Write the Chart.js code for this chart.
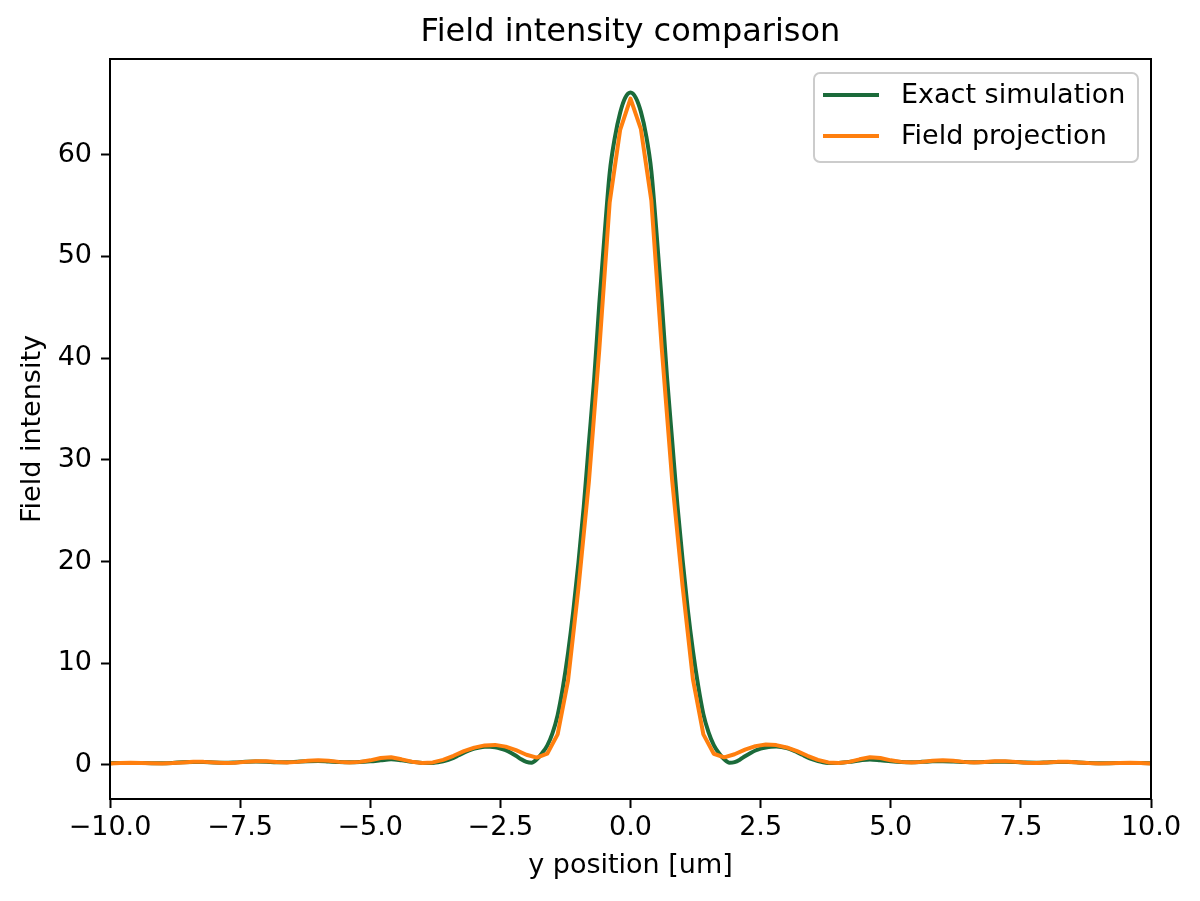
<!DOCTYPE html>
<html>
<head>
<meta charset="utf-8">
<script src="https://cdn.jsdelivr.net/npm/chart.js@4.4.1/dist/chart.umd.min.js"></script>
<style>
  html, body { margin: 0; padding: 0; background: #fff; }
  #fieldChart { display: block; }
</style>
</head>
<body>
<canvas id="fieldChart" width="1200" height="901"></canvas>
<script>
const titleText = "Field intensity comparison";
const xLabel = "y position [um]";
const yLabel = "Field intensity";
const seriesNames = ["Exact simulation", "Field projection"];

const xTicks = [-10, -7.5, -5, -2.5, 0, 2.5, 5, 7.5, 10];
const xTickLabels = ["\u221210.0", "\u22127.5", "\u22125.0", "\u22122.5", "0.0", "2.5", "5.0", "7.5", "10.0"];
const yTicks = [0, 10, 20, 30, 40, 50, 60];
const yTickLabels = ["0", "10", "20", "30", "40", "50", "60"];

// exact simulation (fine sampling)
const exactX = [
  -10, -9.8, -9.6, -9.4, -9.2, -9, -8.8, -8.6, -8.4, -8.2, -8, -7.8, -7.6, -7.4, -7.2, -7, -6.8, -6.6, -6.4, -6.2,
  -6, -5.8, -5.6, -5.4, -5.2, -5, -4.8, -4.6, -4.4, -4.2,
  -4, -3.9, -3.8, -3.7, -3.6, -3.5, -3.4, -3.3, -3.2, -3.1, -3, -2.9, -2.8, -2.7, -2.6, -2.5, -2.4, -2.3, -2.2, -2.1,
  -2, -1.9, -1.8, -1.7, -1.6, -1.5, -1.4, -1.3, -1.2, -1.1, -1, -0.9, -0.8, -0.7, -0.6, -0.5, -0.4, -0.3, -0.2, -0.1,
  0, 0.1, 0.2, 0.3, 0.4, 0.5, 0.6, 0.7, 0.8, 0.9, 1, 1.1, 1.2, 1.3, 1.4, 1.5, 1.6, 1.7, 1.8, 1.9,
  2, 2.1, 2.2, 2.3, 2.4, 2.5, 2.6, 2.7, 2.8, 2.9, 3, 3.1, 3.2, 3.3, 3.4, 3.5, 3.6, 3.7, 3.8, 3.9, 4,
  4.2, 4.4, 4.6, 4.8, 5, 5.2, 5.4, 5.6, 5.8, 6, 6.2, 6.4, 6.6, 6.8, 7, 7.2, 7.4, 7.6, 7.8, 8,
  8.2, 8.4, 8.6, 8.8, 9, 9.2, 9.4, 9.6, 9.8, 10
];
const exactY = [
  0.17, 0.19, 0.2, 0.19, 0.17, 0.17, 0.2, 0.26, 0.29, 0.28, 0.24, 0.22, 0.25, 0.3, 0.33, 0.31, 0.27, 0.27, 0.32, 0.37,
  0.38, 0.33, 0.28, 0.26, 0.28, 0.35, 0.45, 0.55, 0.45, 0.3,
  0.2, 0.18, 0.2, 0.25, 0.35, 0.5, 0.7, 0.95, 1.2, 1.42, 1.6, 1.72, 1.78, 1.78, 1.73, 1.62, 1.45, 1.2, 0.9, 0.55,
  0.3, 0.22, 0.55, 1.15, 1.9, 3.1, 4.9, 7.6, 11.0, 15.1, 19.9, 25.3, 31.6, 37.8, 45.3, 52.0, 58.2, 61.7, 64.1, 65.6,
  66.1, 65.6, 64.2, 61.9, 58.4, 52.3, 45.6, 38.2, 31.9, 25.6, 20.2, 15.3, 11.2, 7.8, 5.0, 3.2, 1.95, 1.15, 0.55, 0.22,
  0.28, 0.52, 0.85, 1.15, 1.42, 1.6, 1.72, 1.79, 1.8, 1.76, 1.65, 1.48, 1.25, 1.0, 0.75, 0.55, 0.38, 0.27, 0.2, 0.18, 0.2,
  0.3, 0.44, 0.54, 0.46, 0.36, 0.29, 0.27, 0.3, 0.35, 0.37, 0.34, 0.29, 0.26, 0.28, 0.32, 0.32, 0.28, 0.23, 0.22, 0.25,
  0.28, 0.28, 0.25, 0.2, 0.17, 0.17, 0.19, 0.2, 0.18, 0.16
];

// field projection (coarser sampling, 0.2 um)
const projX = [
  -10, -9.8, -9.6, -9.4, -9.2, -9, -8.8, -8.6, -8.4, -8.2, -8, -7.8, -7.6, -7.4, -7.2, -7, -6.8, -6.6, -6.4, -6.2,
  -6, -5.8, -5.6, -5.4, -5.2, -5, -4.8, -4.6, -4.4, -4.2, -4, -3.8, -3.6, -3.4, -3.2, -3, -2.8, -2.6, -2.4, -2.2,
  -2, -1.8, -1.6, -1.4, -1.2, -1, -0.8, -0.6, -0.4, -0.2, 0, 0.2, 0.4, 0.6, 0.8, 1, 1.2, 1.4, 1.6, 1.8,
  2, 2.2, 2.4, 2.6, 2.8, 3, 3.2, 3.4, 3.6, 3.8, 4, 4.2, 4.4, 4.6, 4.8, 5, 5.2, 5.4, 5.6, 5.8,
  6, 6.2, 6.4, 6.6, 6.8, 7, 7.2, 7.4, 7.6, 7.8, 8, 8.2, 8.4, 8.6, 8.8, 9, 9.2, 9.4, 9.6, 9.8, 10
];
const projY = [
  0.15, 0.18, 0.21, 0.2, 0.16, 0.14, 0.18, 0.25, 0.31, 0.3, 0.24, 0.2, 0.22, 0.3, 0.37, 0.36, 0.28, 0.24, 0.3, 0.4,
  0.45, 0.4, 0.3, 0.25, 0.3, 0.45, 0.68, 0.75, 0.55, 0.32, 0.2, 0.25, 0.5, 0.9, 1.35, 1.7, 1.92, 1.97, 1.8, 1.45,
  1.0, 0.72, 1.1, 3.0, 8.3, 17.4, 27.8, 40.8, 55.3, 62.4, 65.5, 62.5, 55.5, 41.0, 28.0, 17.6, 8.4, 3.0, 1.1, 0.75,
  1.05, 1.5, 1.85, 2.0, 1.95, 1.72, 1.35, 0.9, 0.5, 0.25, 0.18, 0.3, 0.55, 0.75, 0.68, 0.45, 0.3, 0.25, 0.3, 0.42,
  0.47, 0.4, 0.3, 0.24, 0.28, 0.36, 0.37, 0.3, 0.22, 0.2, 0.24, 0.3, 0.31, 0.25, 0.18, 0.14, 0.16, 0.2, 0.21, 0.18, 0.15
];

const exactColor = "#1b6b3a";
const projColor = "#ff7f0e";
const FONT = "DejaVu Sans";

Chart.defaults.font.family = FONT;
Chart.defaults.color = "#000";

// matplotlib-style title, box spines and in-plot legend
const frameLegendPlugin = {
  id: "frameLegend",
  afterDraw(chart) {
    const { ctx, chartArea: { left, right, top, bottom } } = chart;
    ctx.save();
    ctx.fillStyle = "#000";
    ctx.font = `32px "${FONT}"`;
    ctx.textAlign = "center";
    ctx.textBaseline = "middle";
    ctx.fillText(titleText, (left + right) / 2, 33);

    ctx.strokeStyle = "#000";
    ctx.lineWidth = 2;
    ctx.strokeRect(left, top, right - left, bottom - top);

    const bw = 324, bh = 89;
    const bx = right - 13 - bw, by = top + 14;
    const r = 6;
    ctx.beginPath();
    ctx.moveTo(bx + r, by);
    ctx.arcTo(bx + bw, by, bx + bw, by + bh, r);
    ctx.arcTo(bx + bw, by + bh, bx, by + bh, r);
    ctx.arcTo(bx, by + bh, bx, by, r);
    ctx.arcTo(bx, by, bx + bw, by, r);
    ctx.closePath();
    ctx.fillStyle = "rgba(255,255,255,0.8)";
    ctx.fill();
    ctx.strokeStyle = "#cccccc";
    ctx.lineWidth = 2;
    ctx.stroke();

    const colors = [exactColor, projColor];
    ctx.font = `27px "${FONT}"`;
    ctx.textAlign = "left";
    seriesNames.forEach((name, i) => {
      const y = by + 22 + i * 41;
      ctx.beginPath();
      ctx.moveTo(bx + 9, y);
      ctx.lineTo(bx + 65, y);
      ctx.strokeStyle = colors[i];
      ctx.lineWidth = 4;
      ctx.stroke();
      ctx.fillStyle = "#000";
      ctx.fillText(name, bx + 87, y + 1);
    });
    ctx.restore();
  }
};

const exactData = exactX.map((x, i) => ({ x, y: exactY[i] }));
const projData = projX.map((x, i) => ({ x, y: projY[i] }));

new Chart(document.getElementById("fieldChart"), {
  type: "line",
  data: {
    datasets: [
      {
        label: seriesNames[0],
        data: exactData,
        borderColor: exactColor,
        borderWidth: 4,
        pointRadius: 0,
        cubicInterpolationMode: "monotone",
        fill: false,
        order: 2
      },
      {
        label: seriesNames[1],
        data: projData,
        borderColor: projColor,
        borderWidth: 4,
        pointRadius: 0,
        tension: 0,
        borderJoinStyle: "round",
        fill: false,
        order: 1
      }
    ]
  },
  options: {
    responsive: false,
    animation: false,
    devicePixelRatio: 1,
    layout: { padding: { top: 59, right: 49, left: 0, bottom: 0 } },
    plugins: {
      legend: { display: false },
      title: { display: false },
      tooltip: { enabled: false }
    },
    scales: {
      x: {
        type: "linear",
        min: -10,
        max: 10,
        afterFit: (s) => { s.height = 102; },
        afterBuildTicks: (s) => { s.ticks = xTicks.map(v => ({ value: v })); },
        ticks: {
          autoSkip: false,
          maxRotation: 0,
          padding: 4,
          font: { size: 27 },
          color: "#000",
          callback: (v, i) => xTickLabels[i]
        },
        grid: { drawOnChartArea: false, drawTicks: true, tickLength: 9, tickColor: "#000", tickWidth: 2 },
        border: { display: false },
        title: { display: true, text: xLabel, font: { size: 27 }, color: "#000", padding: { top: 0, bottom: 19 } }
      },
      y: {
        type: "linear",
        min: -3.35,
        max: 69.4,
        afterFit: (s) => { s.width = 110; },
        afterBuildTicks: (s) => { s.ticks = yTicks.map(v => ({ value: v })); },
        ticks: {
          autoSkip: false,
          padding: 9,
          font: { size: 27 },
          color: "#000",
          callback: (v, i) => yTickLabels[i]
        },
        grid: { drawOnChartArea: false, drawTicks: true, tickLength: 9, tickColor: "#000", tickWidth: 2 },
        border: { display: false },
        title: { display: true, text: yLabel, font: { size: 27 }, color: "#000", padding: { top: 17, bottom: 0 } }
      }
    }
  },
  plugins: [frameLegendPlugin]
});
</script>
</body>
</html>
